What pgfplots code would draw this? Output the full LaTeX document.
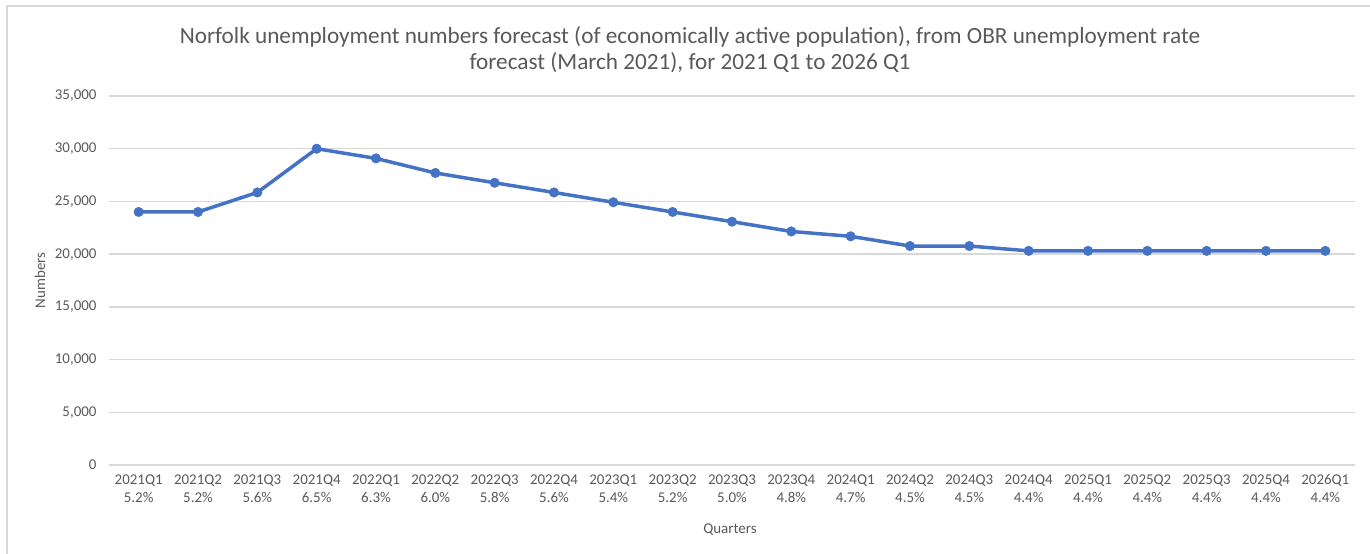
\documentclass[border=0pt]{standalone}
\usepackage{pgfplots}
\pgfplotsset{compat=1.18}
\usepackage{fontspec}
\setmainfont{Carlito}

\definecolor{lineblue}{HTML}{4472C4}
\definecolor{gridgray}{HTML}{D9D9D9}
\definecolor{textgray}{HTML}{595959}

% Quarterly unemployment numbers (Norfolk), OBR rate applied to active population
\pgfplotstableread{
idx value
0  24000
1  24000
2  25850
3  30000
4  29080
5  27700
6  26770
7  25850
8  24920
9  24000
10 23080
11 22150
12 21690
13 20770
14 20770
15 20310
16 20310
17 20310
18 20310
19 20310
20 20310
}\unemp

\begin{document}
\begin{tikzpicture}
\useasboundingbox (0,0) rectangle (1370bp,554bp);
% chart area frame
\draw[gridgray, line width=1.2bp] (7bp,-5bp) -- (7bp,548bp) -- (1375bp,548bp);

\begin{axis}[
  at={(109bp,89bp)}, anchor=south west,
  scale only axis,
  width=1246bp, height=369bp,
  xmin=-0.5, xmax=20.5,
  ymin=0, ymax=35000,
  ytick={0,5000,...,35000},
  xtick={0,...,20},
  xticklabels={
    {2021Q1\\5.2\%},{2021Q2\\5.2\%},{2021Q3\\5.6\%},{2021Q4\\6.5\%},
    {2022Q1\\6.3\%},{2022Q2\\6.0\%},{2022Q3\\5.8\%},{2022Q4\\5.6\%},
    {2023Q1\\5.4\%},{2023Q2\\5.2\%},{2023Q3\\5.0\%},{2023Q4\\4.8\%},
    {2024Q1\\4.7\%},{2024Q2\\4.5\%},{2024Q3\\4.5\%},{2024Q4\\4.4\%},
    {2025Q1\\4.4\%},{2025Q2\\4.4\%},{2025Q3\\4.4\%},{2025Q4\\4.4\%},
    {2026Q1\\4.4\%}},
  axis line style={draw=none},
  major tick length=0pt,
  ymajorgrids,
  grid style={gridgray, line width=1.3bp},
  scaled y ticks=false,
  /pgf/number format/assume math mode=true,
  /pgf/number format/1000 sep={,},
  tick label style={font=\fontsize{15}{18}\selectfont, text=textgray},
  xticklabel style={align=center, yshift=-6bp},
  yticklabel style={anchor=east, xshift=-9bp},
  title={Norfolk unemployment numbers forecast (of economically active population), from OBR unemployment rate\\forecast (March 2021), for 2021 Q1 to 2026 Q1},
  title style={at={(axis description cs:0.4663,1)}, anchor=center, yshift=40.5bp,
    align=center, font=\fontsize{23.3}{26}\selectfont, text=textgray},
  xlabel={Quarters},
  xlabel style={at={(axis description cs:0.4984,0)}, anchor=center, yshift=-65bp,
    font=\fontsize{15}{18}\selectfont, text=textgray},
  ylabel={Numbers},
  ylabel style={at={(axis description cs:-0.0554,0.5)}, anchor=center, rotate=0,
    font=\fontsize{15}{18}\selectfont, text=textgray},
  clip=false,
]
\addplot[lineblue, line width=3.5bp, mark=*, mark size=4.8bp,
  mark options={solid, fill=lineblue, draw=lineblue, line width=0.4bp}]
  table[x=idx, y=value] {\unemp};
\end{axis}
\end{tikzpicture}
\end{document}
